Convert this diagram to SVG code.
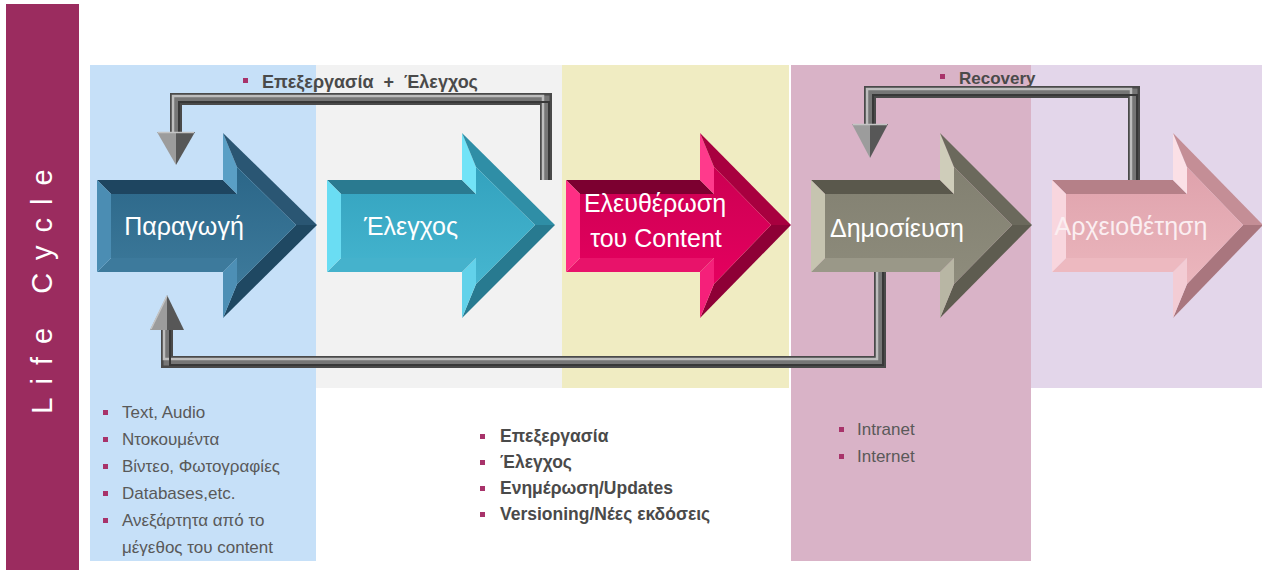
<svg xmlns="http://www.w3.org/2000/svg" width="1262" height="570" viewBox="0 0 1262 570">
  <defs>
    <style>
      .lbl { font-family: "Liberation Sans", Arial, sans-serif; fill: #595959; font-size: 17px; }
      .lbl-b { font-family: "Liberation Sans", Arial, sans-serif; fill: #4a4a4a; font-size: 17.5px; font-weight: bold; }
      .big { font-family: "Liberation Sans", Arial, sans-serif; fill: #ffffff; font-size: 25px; text-anchor: middle; }
      .bul { fill: #a8336a; }
      .pipe-base { fill: none; stroke: #4a4a4a; stroke-width: 12; stroke-linejoin: miter; }
      .pipe-mid { fill: none; stroke: #767676; stroke-width: 7; stroke-linejoin: miter; }
      .pipe-hi { fill: none; stroke: #bdbdbd; stroke-width: 2.5; stroke-linejoin: miter; }
      .pipe-lo { fill: none; stroke: #383838; stroke-width: 2; stroke-linejoin: miter; }
      .head-l { fill: #9c9c9c; }
      .head-r { fill: #575757; }
      .head-e { fill: none; stroke: #c4c4c4; stroke-width: 1.5; }

      .a1 .top { fill: #1e4560; } .a1 .hbt { fill: #5a9fc5; } .a1 .st { fill: #2a5673; }
      .a1 .sb { fill: #1f4862; } .a1 .hbb { fill: #4d8fb5; } .a1 .bot { fill: #3d7a9c; } .a1 .lft { fill: #4b8db3; }

      .a2 .top { fill: #2a7a90; } .a2 .hbt { fill: #72e3f7; } .a2 .st { fill: #2f8ea6; }
      .a2 .sb { fill: #287a90; } .a2 .hbb { fill: #62d2ea; } .a2 .bot { fill: #45b2cc; } .a2 .lft { fill: #6addf3; }

      .a3 .top { fill: #7c0030; } .a3 .hbt { fill: #ff3a8c; } .a3 .st { fill: #a8003f; }
      .a3 .sb { fill: #8e0036; } .a3 .hbb { fill: #f5207a; } .a3 .bot { fill: #e8136a; } .a3 .lft { fill: #ff2e84; }

      .a4 .top { fill: #5a584c; } .a4 .hbt { fill: #cfcdba; } .a4 .st { fill: #6b695c; }
      .a4 .sb { fill: #5e5c50; } .a4 .hbb { fill: #b8b6a4; } .a4 .bot { fill: #9a9888; } .a4 .lft { fill: #c6c4b0; }

      .a5 .top { fill: #b58088; } .a5 .hbt { fill: #fbe0e6; } .a5 .st { fill: #c48e96; }
      .a5 .sb { fill: #a9767e; } .a5 .hbb { fill: #f3ccd4; } .a5 .bot { fill: #edb9c0; } .a5 .lft { fill: #f8d6de; }
    </style>
    <linearGradient id="f1" x1="0" y1="0" x2="0" y2="1"><stop offset="0" stop-color="#2b6688"/><stop offset="1" stop-color="#3d7a9b"/></linearGradient>
    <linearGradient id="f2" x1="0" y1="0" x2="0" y2="1"><stop offset="0" stop-color="#33a2be"/><stop offset="1" stop-color="#46b6d0"/></linearGradient>
    <linearGradient id="f3" x1="0" y1="0" x2="0" y2="1"><stop offset="0" stop-color="#cc0052"/><stop offset="1" stop-color="#e5005f"/></linearGradient>
    <linearGradient id="f4" x1="0" y1="0" x2="0" y2="1"><stop offset="0" stop-color="#828071"/><stop offset="1" stop-color="#8e8c7c"/></linearGradient>
    <linearGradient id="f5" x1="0" y1="0" x2="0" y2="1"><stop offset="0" stop-color="#dfa2ac"/><stop offset="1" stop-color="#ebb6bd"/></linearGradient>
  </defs>

  <rect width="1262" height="570" fill="#ffffff"/>

  <!-- side bar -->
  <g id="side-bar">
    <rect x="6" y="4" width="73" height="566" fill="#9b2c5f"/>
    <text transform="translate(52,285) rotate(-90)" text-anchor="middle" font-family="Liberation Sans, Arial, sans-serif" font-size="29" letter-spacing="13" fill="#ffffff">Life Cycle</text>
  </g>

  <!-- stage columns -->
  <g id="columns">
    <rect x="90" y="65" width="226" height="496" fill="#c6e0f8"/>
    <rect x="316" y="65" width="246" height="323" fill="#f2f2f2"/>
    <rect x="562" y="65" width="227" height="323" fill="#f0ecc2"/>
    <rect x="791" y="65" width="240" height="496" fill="#d9b3c7"/>
    <rect x="1031" y="65" width="231" height="323" fill="#e3d6ea"/>
  </g>

  <!-- feedback pipes -->
  <g id="connectors">
    <g id="edit-loop">
      <path class="pipe-base" d="M546,180 V99 H176 V134"/>
      <path class="pipe-mid" d="M546,180 V99 H176 V134"/>
      <path class="pipe-hi" d="M543,180 V96 H173 V134"/>
      <path class="pipe-lo" d="M549,180 V102 H179 V134"/>
      <polygon class="head-l" points="157,132 176,132 176,165"/>
      <polygon class="head-r" points="176,132 195,132 176,165"/>
      <polyline class="head-e" points="158,132.5 194,132.5"/>
    </g>
    <g id="publish-loop">
      <path class="pipe-base" d="M880,272 V362 H167 V328"/>
      <path class="pipe-mid" d="M880,272 V362 H167 V328"/>
      <path class="pipe-hi" d="M877,272 V359 H164 V328"/>
      <path class="pipe-lo" d="M883,272 V365 H170 V328"/>
      <polygon class="head-l" points="150,330 167,295 167,330"/>
      <polygon class="head-r" points="167,295 184,330 167,330"/>
      <polyline class="head-e" points="151,329 167,296"/>
    </g>
    <g id="recovery-loop">
      <path class="pipe-base" d="M1134,180 V92 H870 V126"/>
      <path class="pipe-mid" d="M1134,180 V92 H870 V126"/>
      <path class="pipe-hi" d="M1131,180 V89 H867 V126"/>
      <path class="pipe-lo" d="M1137,180 V95 H873 V126"/>
      <polygon class="head-l" points="852,124 870,124 870,158"/>
      <polygon class="head-r" points="870,124 888,124 870,158"/>
      <polyline class="head-e" points="853,124.5 887,124.5"/>
    </g>
  </g>

  <!-- stage arrows -->
  <g id="node-production" class="a1">
    <polygon class="top" points="97,180 223,180 237,194 111,194"/>
    <polygon class="hbt" points="223,180 223,133 237,167 237,194"/>
    <polygon class="st" points="223,133 317,225 296,225 237,167"/>
    <polygon class="sb" points="317,225 223,318 237,284 296,225"/>
    <polygon class="hbb" points="223,318 223,272 237,258 237,284"/>
    <polygon class="bot" points="223,272 97,272 111,258 237,258"/>
    <polygon class="lft" points="97,272 97,180 111,194 111,258"/>
    <polygon fill="url(#f1)" points="111,194 237,194 237,167 296,225 237,284 237,258 111,258"/>
    <text class="big" x="184" y="235">Παραγωγή</text>
  </g>

  <g id="node-check" class="a2">
    <polygon class="top" points="327,180 462,180 476,194 341,194"/>
    <polygon class="hbt" points="462,180 462,133 476,167 476,194"/>
    <polygon class="st" points="462,133 555,225 535,225 476,167"/>
    <polygon class="sb" points="555,225 462,318 476,284 535,225"/>
    <polygon class="hbb" points="462,318 462,272 476,258 476,284"/>
    <polygon class="bot" points="462,272 327,272 341,258 476,258"/>
    <polygon class="lft" points="327,272 327,180 341,194 341,258"/>
    <polygon fill="url(#f2)" points="341,194 476,194 476,167 535,225 476,284 476,258 341,258"/>
    <text class="big" x="411" y="235">Έλεγχος</text>
  </g>

  <g id="node-release" class="a3">
    <polygon class="top" points="566,180 700,180 714,194 580,194"/>
    <polygon class="hbt" points="700,180 700,133 714,167 714,194"/>
    <polygon class="st" points="700,133 791,225 771,225 714,167"/>
    <polygon class="sb" points="791,225 700,318 714,284 771,225"/>
    <polygon class="hbb" points="700,318 700,272 714,258 714,284"/>
    <polygon class="bot" points="700,272 566,272 580,258 714,258"/>
    <polygon class="lft" points="566,272 566,180 580,194 580,258"/>
    <polygon fill="url(#f3)" points="580,194 714,194 714,167 771,225 714,284 714,258 580,258"/>
    <text class="big" x="655" y="212">Ελευθέρωση</text>
    <text class="big" x="656" y="247">του Content</text>
  </g>

  <g id="node-publish" class="a4">
    <polygon class="top" points="811,180 940,180 954,194 825,194"/>
    <polygon class="hbt" points="940,180 940,133 954,167 954,194"/>
    <polygon class="st" points="940,133 1032,225 1012,225 954,167"/>
    <polygon class="sb" points="1032,225 940,318 954,284 1012,225"/>
    <polygon class="hbb" points="940,318 940,272 954,258 954,284"/>
    <polygon class="bot" points="940,272 811,272 825,258 954,258"/>
    <polygon class="lft" points="811,272 811,180 825,194 825,258"/>
    <polygon fill="url(#f4)" points="825,194 954,194 954,167 1012,225 954,284 954,258 825,258"/>
    <text class="big" x="897" y="237">Δημοσίευση</text>
  </g>

  <g id="node-archive" class="a5">
    <polygon class="top" points="1052,180 1173,180 1187,194 1066,194"/>
    <polygon class="hbt" points="1173,180 1173,133 1187,167 1187,194"/>
    <polygon class="st" points="1173,133 1263,225 1243,225 1187,167"/>
    <polygon class="sb" points="1263,225 1173,318 1187,284 1243,225"/>
    <polygon class="hbb" points="1173,318 1173,272 1187,258 1187,284"/>
    <polygon class="bot" points="1173,272 1052,272 1066,258 1187,258"/>
    <polygon class="lft" points="1052,272 1052,180 1066,194 1066,258"/>
    <polygon fill="url(#f5)" points="1066,194 1187,194 1187,167 1243,225 1187,284 1187,258 1066,258"/>
    <text class="big" x="1131" y="235" style="fill:#fbeef1">Αρχειοθέτηση</text>
  </g>

  <!-- loop labels -->
  <g id="loop-labels">
    <rect class="bul" x="243" y="78" width="5" height="5"/>
    <text class="lbl-b" x="262" y="88" style="font-size:18px" xml:space="preserve">Επεξεργασία  +  Έλεγχος</text>
    <rect class="bul" x="940" y="74" width="5" height="5"/>
    <text class="lbl-b" x="959" y="84" style="font-size:17px">Recovery</text>
  </g>

  <!-- notes under the stages -->
  <g id="notes-production">
    <rect class="bul" x="103" y="410" width="5" height="5"/>
    <text class="lbl" x="122" y="418">Text, Audio</text>
    <rect class="bul" x="103" y="437" width="5" height="5"/>
    <text class="lbl" x="122" y="445">Ντοκουμέντα</text>
    <rect class="bul" x="103" y="464" width="5" height="5"/>
    <text class="lbl" x="122" y="472">Βίντεο, Φωτογραφίες</text>
    <rect class="bul" x="103" y="491" width="5" height="5"/>
    <text class="lbl" x="122" y="499">Databases,etc.</text>
    <rect class="bul" x="103" y="518" width="5" height="5"/>
    <text class="lbl" x="122" y="526">Ανεξάρτητα από το</text>
    <text class="lbl" x="122" y="553">μέγεθος του content</text>
  </g>

  <g id="notes-release">
    <rect class="bul" x="480" y="434" width="5" height="5"/>
    <text class="lbl-b" x="500" y="442">Επεξεργασία</text>
    <rect class="bul" x="480" y="460" width="5" height="5"/>
    <text class="lbl-b" x="500" y="468">Έλεγχος</text>
    <rect class="bul" x="480" y="486" width="5" height="5"/>
    <text class="lbl-b" x="500" y="494">Ενημέρωση/Updates</text>
    <rect class="bul" x="480" y="512" width="5" height="5"/>
    <text class="lbl-b" x="500" y="520">Versioning/Νέες εκδόσεις</text>
  </g>

  <g id="notes-publish">
    <rect class="bul" x="839" y="427" width="5" height="5"/>
    <text class="lbl" x="857" y="435">Intranet</text>
    <rect class="bul" x="839" y="454" width="5" height="5"/>
    <text class="lbl" x="857" y="462">Internet</text>
  </g>
</svg>
